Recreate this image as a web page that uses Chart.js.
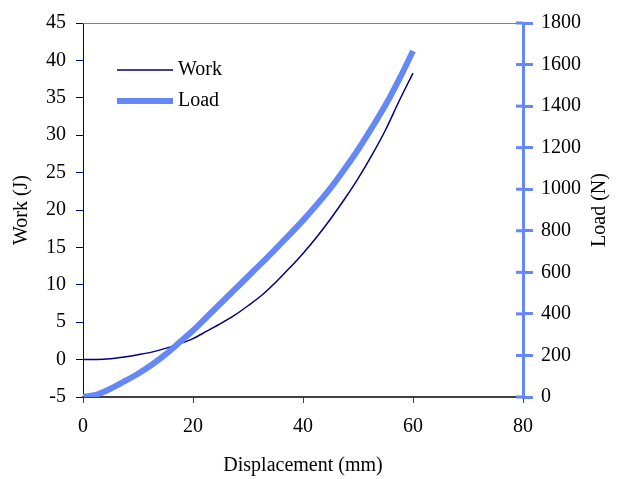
<!DOCTYPE html>
<html>
<head>
<meta charset="utf-8">
<script src="https://cdn.jsdelivr.net/npm/chart.js@4/dist/chart.umd.min.js"></script>
<style>
  html, body { margin: 0; padding: 0; background: #fff; }
  #wrap { width: 626px; height: 479px; }
</style>
</head>
<body>
<div id="wrap"><canvas id="chart" width="626" height="479"></canvas></div>
<script>
// values
const displacement = [0, 2.5, 5, 7.5, 10, 12.5, 15, 17.5, 20, 22.5, 25, 27.5, 30,
                      32.5, 35, 37.5, 40, 42.5, 45, 47.5, 50, 52.5, 55, 57.5, 60];
const work = [0, 0, 0.1, 0.35, 0.65, 1.0, 1.5, 2.1, 2.8, 3.8, 4.8, 5.9, 7.2,
              8.6, 10.3, 12.2, 14.2, 16.4, 18.8, 21.4, 24.2, 27.3, 30.7, 34.6, 38.3];
const load = [0, 12, 40, 75, 112, 155, 205, 262, 320, 385, 450, 515, 580,
              645, 712, 780, 850, 925, 1005, 1095, 1190, 1295, 1405, 1530, 1665];

const xTicks = [0, 20, 40, 60, 80];
const workTicks = [-5, 0, 5, 10, 15, 20, 25, 30, 35, 40, 45];
const loadTicks = [0, 200, 400, 600, 800, 1000, 1200, 1400, 1600, 1800];

const NAVY = '#000080';
const BLUE = 'rgb(100,135,250)';
const FONT = 'Liberation Serif';
const SIZE = 20;

function points(ys) {
    return displacement.map((x, i) => ({ x: x, y: ys[i] }));
}

// top border, inner half of the right-axis ticks, right title, legend
const extras = {
    id: 'extras',
    beforeDatasetsDraw(chart) {
        const { ctx, chartArea } = chart;
        ctx.save();
        ctx.strokeStyle = '#808080';
        ctx.lineWidth = 1;
        ctx.beginPath();
        ctx.moveTo(chartArea.left, Math.round(chartArea.top) + 0.5);
        ctx.lineTo(chartArea.right, Math.round(chartArea.top) + 0.5);
        ctx.stroke();
        ctx.restore();
    },
    afterDraw(chart) {
        const { ctx, chartArea } = chart;
        const y1 = chart.scales.y1;
        ctx.save();
        ctx.strokeStyle = BLUE;
        ctx.lineWidth = 3;
        y1.ticks.forEach((t, i) => {
            const py = y1.getPixelForTick(i);
            ctx.beginPath();
            ctx.moveTo(chartArea.right - 7, py);
            ctx.lineTo(chartArea.right, py);
            ctx.stroke();
        });

        // right title reads bottom to top
        ctx.fillStyle = '#000';
        ctx.font = SIZE + 'px "' + FONT + '"';
        ctx.textAlign = 'center';
        ctx.textBaseline = 'middle';
        ctx.translate(600, (y1.top + y1.bottom) / 2);
        ctx.rotate(-Math.PI / 2);
        ctx.fillText('Load (N)', 0, 0);
        ctx.restore();

        // legend
        ctx.save();
        const rows = [
            { ds: chart.data.datasets[0], y: 70 },
            { ds: chart.data.datasets[1], y: 101 }
        ];
        rows.forEach(r => {
            ctx.strokeStyle = r.ds.borderColor;
            ctx.lineWidth = r.ds.borderWidth;
            ctx.beginPath();
            ctx.moveTo(117, r.y);
            ctx.lineTo(173, r.y);
            ctx.stroke();
            ctx.fillStyle = '#000';
            ctx.font = SIZE + 'px "' + FONT + '"';
            ctx.textAlign = 'left';
            ctx.textBaseline = 'middle';
            ctx.fillText(r.ds.label, 178, r.y);
        });
        ctx.restore();
    }
};

new Chart(document.getElementById('chart'), {
    type: 'line',
    data: {
        datasets: [
            {
                label: 'Work',
                data: points(work),
                yAxisID: 'y',
                borderColor: NAVY,
                borderWidth: 1.5,
                pointRadius: 0,
                cubicInterpolationMode: 'monotone',
                order: 1
            },
            {
                label: 'Load',
                data: points(load),
                yAxisID: 'y1',
                borderColor: BLUE,
                borderWidth: 6,
                pointRadius: 0,
                cubicInterpolationMode: 'monotone',
                order: 0
            }
        ]
    },
    options: {
        responsive: false,
        animation: false,
        layout: { padding: { top: 23, left: 0, right: 0, bottom: 0 } },
        plugins: { legend: { display: false }, tooltip: { enabled: false } },
        scales: {
            x: {
                type: 'linear',
                min: 0, max: 80,
                afterBuildTicks: s => { s.ticks = xTicks.map(v => ({ value: v })); },
                afterFit: s => { s.height = 82; },
                border: { color: '#404040', width: 2 },
                grid: { drawOnChartArea: false, tickLength: 6, color: '#404040' },
                ticks: { color: '#000', padding: 12, font: { family: FONT, size: SIZE },
                         callback: v => String(v) },
                title: { display: true, text: 'Displacement (mm)', color: '#000',
                         padding: { top: 0, bottom: 1 }, font: { family: FONT, size: SIZE } }
            },
            y: {
                position: 'left',
                min: -5, max: 45,
                afterBuildTicks: s => { s.ticks = workTicks.map(v => ({ value: v })); },
                afterFit: s => { s.width = 83; },
                border: { color: NAVY, width: 1 },
                grid: { drawOnChartArea: false, tickLength: 7, color: NAVY },
                ticks: { color: '#000', padding: 10, font: { family: FONT, size: SIZE },
                         callback: v => String(v) },
                title: { display: true, text: 'Work (J)', color: '#000',
                         padding: { top: 10, bottom: 0 }, font: { family: FONT, size: SIZE } }
            },
            y1: {
                position: 'right',
                min: 0, max: 1800,
                afterBuildTicks: s => { s.ticks = loadTicks.map(v => ({ value: v })); },
                afterFit: s => { s.width = 103; },
                border: { color: BLUE, width: 3 },
                grid: { drawOnChartArea: false, tickLength: 10, color: BLUE, lineWidth: 3 },
                ticks: { color: '#000', padding: 8, font: { family: FONT, size: SIZE },
                         callback: v => String(v) }
            }
        }
    },
    plugins: [extras]
});
</script>
</body>
</html>
